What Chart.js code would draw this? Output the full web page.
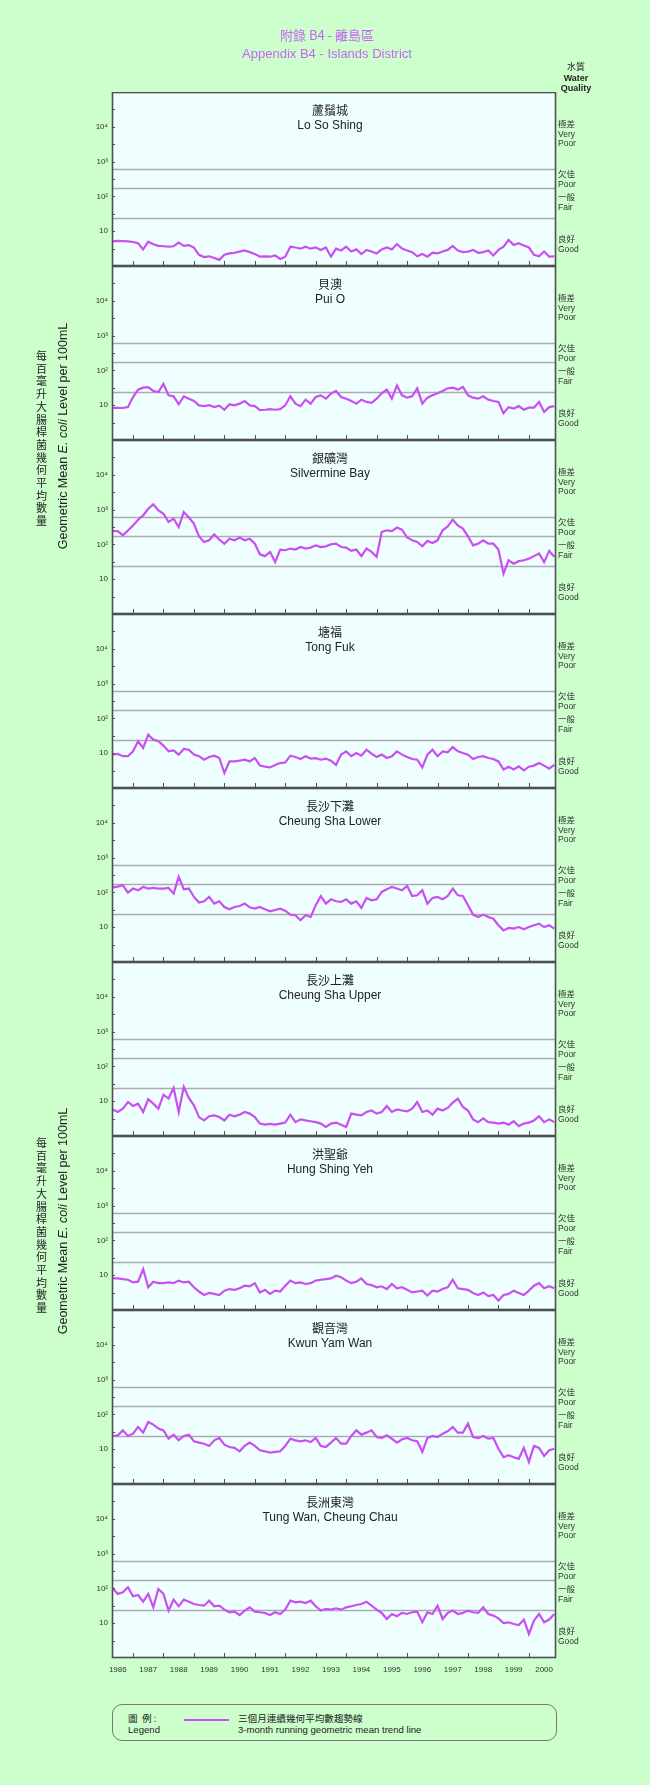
<!DOCTYPE html>
<html>
<head>
<meta charset="utf-8">
<title>Appendix B4 - Islands District</title>
<script src="https://cdn.jsdelivr.net/npm/chart.js@4.4.1/dist/chart.umd.min.js"></script>
<style>
  html, body { margin: 0; padding: 0; }
  body { width: 650px; height: 1785px; background: #ccffcc; position: relative; overflow: hidden;
         font-family: "Liberation Sans", Arial, "Noto Sans CJK TC", sans-serif; color: #222; }
  .t { position: absolute; white-space: nowrap; line-height: 1; }
  .c { transform: translate(-50%, -50%); text-align: center; }
  .l { transform: translateY(-50%); }
  .zh { font-family: "Noto Sans CJK TC", sans-serif; }
  canvas.panel { position: absolute; left: 0; }
  .title { color: #c466f2; font-size: 13px; }
  .site { font-size: 12px; color: #222; }
  .grade { position: absolute; font-size: 8.5px; line-height: 9.6px; color: #333; }
  .wq { position: absolute; font-size: 9px; line-height: 10.5px; font-weight: bold; text-align: center; color: #222; }
  .ytitle-en { font-size: 12.5px; transform: translate(-50%, -50%) rotate(-90deg); }
  .ytitle-zh { position: absolute; width: 12px; font-size: 11px; line-height: 12.7px; text-align: center;
               transform: translate(-50%, -50%); color: #222; }
  #legend { position: absolute; left: 112px; top: 1704px; width: 443px; height: 35px;
            border: 1px solid #777; border-radius: 10px; }
  .leg { font-size: 9.6px; color: #222; }
</style>
</head>
<body>
<div id="root"></div>
<script>
// sampling dates (every second month) shared by all sites
const MONTHS = [
  '1986-05','1986-07','1986-09','1986-11',
  '1987-01','1987-03','1987-05','1987-07','1987-09','1987-11',
  '1988-01','1988-03','1988-05','1988-07','1988-09','1988-11',
  '1989-01','1989-03','1989-05','1989-07','1989-09','1989-11',
  '1990-01','1990-03','1990-05','1990-07','1990-09','1990-11',
  '1991-01','1991-03','1991-05','1991-07','1991-09','1991-11',
  '1992-01','1992-03','1992-05','1992-07','1992-09','1992-11',
  '1993-01','1993-03','1993-05','1993-07','1993-09','1993-11',
  '1994-01','1994-03','1994-05','1994-07','1994-09','1994-11',
  '1995-01','1995-03','1995-05','1995-07','1995-09','1995-11',
  '1996-01','1996-03','1996-05','1996-07','1996-09','1996-11',
  '1997-01','1997-03','1997-05','1997-07','1997-09','1997-11',
  '1998-01','1998-03','1998-05','1998-07','1998-09','1998-11',
  '1999-01','1999-03','1999-05','1999-07','1999-09','1999-11',
  '2000-01','2000-03','2000-05','2000-07','2000-09','2000-11'
];

// 3-month running geometric mean E. coli per 100mL
const LO_SO_SHING = [5.1,5.3,5.2,5.1,4.9,4.5,3.0,5.0,4.2,3.8,3.7,3.6,3.7,4.7,3.8,4.0,3.4,2.1,1.8,1.9,1.7,1.5,2.1,2.3,2.4,2.6,2.8,2.5,2.2,1.85,1.9,1.85,2.0,1.6,1.85,3.6,3.4,3.15,3.6,3.15,3.4,2.9,3.4,1.85,3.15,2.8,3.6,2.6,3.0,2.2,2.9,2.6,2.3,3.0,3.4,3.0,4.3,3.15,2.8,2.5,1.9,2.2,1.85,2.4,2.3,2.6,2.9,3.8,2.8,2.5,2.6,2.9,2.4,2.5,2.8,2.0,2.9,3.6,5.6,4.0,4.5,3.9,3.4,2.1,1.9,2.6,1.85,1.9];
const PUI_O = [8.4,8.4,8.3,8.8,17.2,28,32,33,25.6,24,41,19.2,18,10.6,18,15.4,13.2,9.9,9.4,10.1,8.8,9.7,7.4,10.6,9.9,11.1,13.2,9.9,9.4,7.2,7.4,7.7,7.4,7.7,9.9,18,11.1,9.4,14.4,11.1,17.2,19.2,15.4,21.5,25.6,17.2,15.4,13.2,11.1,14.4,12.4,11.7,15.4,22,28,15.4,37,19.2,16.5,18,30.6,11.1,16.5,19.2,22,25.6,30.6,32,28,33.4,19.2,16.5,15.4,18,14.4,13.2,12.4,5.9,8.8,8.0,9.4,7.4,8.5,8.5,12.4,6.4,8.8,9.4];
const SILVERMINE_BAY = [242,242,183,252,350,513,680,1060,1410,950,762,440,548,314,850,590,395,170,117,131,195,137,105,146,131,158,131,146,105,52,46,61,31,71,68,76,71,84,76,81,94,84,88,101,105,84,81,65,71,46,76,61,44,226,254,242,305,266,158,131,117,88,126,110,131,254,330,513,350,285,170,94,105,131,105,105,71,14.5,35,28,33,35,39,46,55,31,65,44];
const TONG_FUK = [9.1,9.5,8.2,8.2,11.3,22,14.1,34,24.5,22,16.5,11.3,12.1,9.1,13.2,12.6,9.1,8.2,6.5,7.8,8.5,7.3,2.7,5.8,5.8,6.1,6.5,5.8,7.3,4.4,4.1,3.9,4.6,5.2,5.4,8.5,7.8,6.8,8.2,7.0,7.2,6.5,7.0,6.1,4.6,9.1,11.3,8.2,10.1,8.5,12.6,9.7,7.8,9.1,7.3,8.2,11.3,9.1,7.8,6.8,6.5,3.9,9.1,12.6,8.2,11.3,10.6,15.0,11.3,10.1,9.1,6.8,7.8,8.2,7.3,6.8,5.8,3.4,4.1,3.4,4.2,3.2,4.1,4.4,5.2,4.4,3.6,4.6];
const CHEUNG_SHA_LOWER = [140,146,160,98,129,115,143,129,134,129,129,134,92,280,123,129,74,51,55.5,74,47.6,55.5,38,32.6,38,40.7,47.6,37.3,34.2,38,32.6,28.6,31.3,34.2,29.9,23,22,15.8,22,19.7,42.6,78.7,47.6,63.2,55.5,53.2,63.2,47.6,55.5,35.7,69,59.3,63.2,103,123,143,129,115,154,78.7,82.4,115,47.6,69,74,63.2,78.7,129,82.4,78.7,42.6,23,19.7,23,19.7,17.5,11.4,8.1,9.5,9.1,10.1,8.7,10.1,11.4,12.7,10.1,11.4,9.1];
const CHEUNG_SHA_UPPER = [5.8,4.9,6.1,9.5,7.3,8.5,4.9,11.4,8.5,6.1,15.4,11.9,24,4.9,26,12.4,7.6,3.5,2.8,3.7,3.9,3.5,2.8,4.1,3.7,4.1,4.9,4.4,3.5,2.27,2.12,2.22,2.12,2.27,2.43,4.1,2.5,3.0,2.8,2.65,2.5,2.27,1.82,2.27,2.43,2.12,1.82,4.4,4.1,3.9,4.9,5.4,4.4,4.9,7.3,4.9,5.8,5.4,5.1,6.1,9.5,4.9,5.4,4.1,6.1,5.4,6.4,9.1,11.9,6.8,5.4,3.0,2.5,3.2,2.5,2.43,2.27,2.43,2.12,2.65,1.93,2.27,2.43,2.8,3.7,2.5,3.0,2.5];
const HUNG_SHING_YEH = [8.1,8.1,7.7,7.4,6.2,6.5,15,4.5,6.5,5.9,5.9,6.2,5.9,7.0,6.2,6.5,4.5,3.4,2.7,3.1,2.9,2.7,3.6,4.0,3.8,4.2,5.0,4.8,5.9,3.2,3.8,2.9,3.6,3.4,5.0,7.0,5.9,6.2,5.6,5.9,7.0,7.4,7.7,8.1,9.7,8.7,7.0,5.9,6.5,8.1,5.6,5.2,4.5,4.8,4.0,5.6,4.2,4.5,3.8,3.2,3.4,3.6,2.6,3.6,3.4,4.0,4.5,7.4,4.2,4.0,3.8,3.1,2.7,3.2,2.5,2.7,1.85,2.7,2.9,3.6,3.1,2.7,3.6,5.0,5.9,4.2,4.8,4.2];
const KWUN_YAM_WAN = [24,25,34.8,24,28,43.6,29.9,60.6,51,39,34.8,20,26.2,18,24,26.2,16.9,15.4,14.4,12.4,18,21,13.5,11.6,10.9,8.7,12.4,15.4,12.4,9.3,8.7,8.0,8.4,8.7,12.4,20,18,16.9,18,16.1,21,12.4,11.6,15.4,21,14.4,14.4,24,34.8,26.2,29.9,34.8,22.4,21,25,20,15.4,19.2,21,18,16.9,8.4,21,24,22.4,28,32.7,43.6,29.9,29.9,54.6,22.4,21,24,20,21,10.3,5.9,6.7,5.9,5.3,10.9,4.3,12.4,10.9,6.4,9.3,10.3];
const TUNG_WAN = [100.7,69.4,77.3,107.5,59.3,64.7,41.6,69.4,28.6,96,69.4,23,47.6,30.6,47.6,41.6,35.7,33.4,31.9,44.4,30.6,31.9,24.5,20.6,21.5,17.2,23,28.6,21.5,20.6,19.7,17.2,20.6,18.4,24.5,44.4,39.8,41.6,38.1,44.4,30.6,23,25.6,24.5,26.8,24.5,28.6,30.6,33.4,35.7,41.6,31.9,24.5,19.7,13.2,18.4,15.8,19.7,18.4,20.6,21.5,10.6,20.6,18.4,31.9,13.2,19.7,23,18.4,19.7,23,20.6,19.7,28.6,18.4,16.5,13.8,10.1,10.6,9.5,8.9,12.7,4.9,11.9,18.4,10.6,12.7,18.4];

const SITE_ZH = ['蘆鬚城','貝澳','銀礦灣','塘福','長沙下灘','長沙上灘','洪聖爺','觀音灣','長洲東灣'];
const SITE_EN = ['Lo So Shing','Pui O','Silvermine Bay','Tong Fuk','Cheung Sha Lower','Cheung Sha Upper','Hung Shing Yeh','Kwun Yam Wan','Tung Wan, Cheung Chau'];
const SITE_VALUES = [LO_SO_SHING, PUI_O, SILVERMINE_BAY, TONG_FUK, CHEUNG_SHA_LOWER, CHEUNG_SHA_UPPER, HUNG_SHING_YEH, KWUN_YAM_WAN, TUNG_WAN];

const YEARS = [1986,1987,1988,1989,1990,1991,1992,1993,1994,1995,1996,1997,1998,1999,2000];
const YEAR_TICKS = [1987,1988,1989,1990,1991,1992,1993,1994,1995,1996,1997,1998,1999,2000];
const Y_TICKS = [10, 100, 1000, 10000];
const Y_TICK_LABELS = ['10', '10²', '10³', '10⁴'];
const HALF_DECADES = [3.162, 10, 31.62, 100, 316.2, 1000, 3162, 10000, 31623];
const THRESHOLDS = [24, 180, 610];   // Good / Fair / Poor / Very Poor limits

const GRADE_ZH = ['極差','欠佳','一般','良好'];
const GRADE_EN = [['Very','Poor'],['Poor'],['Fair'],['Good']];

const X_MIN = 1986.31, X_MAX = 2000.89;
const PANEL_TOP = 92, PANEL_H = 174, CANVAS_W = 650, AREA_LEFT = 112, AREA_RIGHT = 556;
const LINE_COLOR = '#c94ff5', PLOT_BG = '#efffff', FRAME_COLOR = '#4f4f4f';
const FONT = '"Liberation Sans", Arial, sans-serif';

const toYear = m => { const [y, mo] = m.split('-').map(Number); return y + (mo - 1) / 12; };

// ── panel decoration: background, grade lines, inward ticks, frame ──
const panelDeco = {
  id: 'panelDeco',
  beforeDraw(chart) {
    const { ctx, chartArea: a, scales: { y } } = chart;
    ctx.save();
    ctx.fillStyle = PLOT_BG;
    ctx.fillRect(a.left, a.top, a.right - a.left, a.bottom - a.top);
    ctx.strokeStyle = '#ababab';
    ctx.lineWidth = 1.4;
    THRESHOLDS.forEach(t => {
      const py = Math.round(y.getPixelForValue(t)) + 0.5;
      ctx.beginPath(); ctx.moveTo(a.left, py); ctx.lineTo(a.right, py); ctx.stroke();
    });
    ctx.restore();
  },
  afterDatasetsDraw(chart) {
    const { ctx, chartArea: a, scales: { x, y } } = chart;
    ctx.save();
    ctx.strokeStyle = FRAME_COLOR;
    ctx.lineWidth = 1;
    ctx.beginPath();
    YEAR_TICKS.forEach(yr => {
      const px = Math.round(x.getPixelForValue(yr)) + 0.5;
      ctx.moveTo(px, a.bottom); ctx.lineTo(px, a.bottom - 5);
    });
    HALF_DECADES.forEach(v => {
      const py = Math.round(y.getPixelForValue(v)) + 0.5;
      ctx.moveTo(a.left, py); ctx.lineTo(a.left + 3, py);
    });
    ctx.stroke();
    ctx.lineWidth = 1.6;
    ctx.strokeRect(a.left + 0.5, a.top + 0.5, a.right - a.left - 1, a.bottom - a.top - 1);
    ctx.restore();
  }
};

const root = document.getElementById('root');
function addText(html, cls, x, y, extra) {
  const d = document.createElement('div');
  d.className = 't ' + cls;
  d.innerHTML = html;
  d.style.left = x + 'px';
  d.style.top = y + 'px';
  if (extra) d.style.cssText += extra;
  root.appendChild(d);
  return d;
}

SITE_VALUES.forEach((values, i) => {
  const last = i === SITE_VALUES.length - 1;
  const top = PANEL_TOP + i * PANEL_H;
  const cv = document.createElement('canvas');
  cv.className = 'panel';
  cv.width = CANVAS_W;
  cv.height = PANEL_H + (last ? 26 : 0);
  cv.style.top = top + 'px';
  root.appendChild(cv);

  new Chart(cv, {
    type: 'line',
    data: {
      datasets: [{
        data: MONTHS.map((m, k) => ({ x: toYear(m), y: values[k] })),
        borderColor: LINE_COLOR,
        borderWidth: 2.2,
        pointRadius: 0,
        tension: 0,
        fill: false
      }]
    },
    options: {
      responsive: false,
      animation: false,
      events: [],
      layout: { padding: { left: 0, right: CANVAS_W - AREA_RIGHT, top: 0, bottom: 0 } },
      plugins: { legend: { display: false }, tooltip: { enabled: false } },
      scales: {
        x: {
          type: 'linear', min: X_MIN, max: X_MAX,
          grid: { display: false, drawTicks: false },
          border: { display: false },
          ticks: {
            display: last, autoSkip: false, maxRotation: 0, padding: 7,
            color: '#333', font: { size: 8, family: FONT },
            callback: v => String(Math.floor(v))
          },
          afterBuildTicks: sc => { sc.ticks = YEARS.map(yr => ({ value: yr + 0.5 })); },
          afterFit: sc => { sc.height = last ? 26 : 0; sc.paddingLeft = 0; sc.paddingRight = 0; }
        },
        y: {
          type: 'logarithmic', min: 1, max: 100000,
          grid: { display: false, drawTicks: false },
          border: { display: false },
          ticks: {
            autoSkip: false, padding: 4, color: '#333', font: { size: 8, family: FONT },
            callback: (v, idx) => Y_TICK_LABELS[idx]
          },
          afterBuildTicks: sc => { sc.ticks = Y_TICKS.map(v => ({ value: v })); },
          afterFit: sc => { sc.width = AREA_LEFT; sc.paddingTop = 0; sc.paddingBottom = 0; }
        }
      }
    },
    plugins: [panelDeco]
  });

  // site name
  addText(SITE_ZH[i], 'c zh site', 330, top + 18);
  addText(SITE_EN[i], 'c site', 330, top + 33);

  // water quality grades on the right
  const gradeY = [27, 77, 100, 142];
  GRADE_ZH.forEach((g, j) => {
    const d = document.createElement('div');
    d.className = 'grade';
    d.style.left = '558px';
    d.style.top = (top + gradeY[j]) + 'px';
    d.innerHTML = '<span class="zh">' + g + '</span><br>' + GRADE_EN[j].join('<br>');
    root.appendChild(d);
  });
});

// titles
addText('附錄 B4 - 離島區', 'c zh title', 327, 34);
addText('Appendix B4 - Islands District', 'c title', 327, 53);

// water quality header
const wq = document.createElement('div');
wq.className = 'wq';
wq.style.left = '552px'; wq.style.top = '62px'; wq.style.width = '48px';
wq.innerHTML = '<span class="zh" style="font-weight:normal">水質</span><br>Water<br>Quality';
root.appendChild(wq);

// y axis titles
[[436, 438], [1221, 1225]].forEach(([ye, yz]) => {
  addText('Geometric Mean <i>E. coli</i> Level per 100mL', 'ytitle-en', 63, ye);
  const z = document.createElement('div');
  z.className = 'ytitle-zh zh';
  z.style.left = '41.5px'; z.style.top = yz + 'px';
  z.textContent = '每百毫升大腸桿菌幾何平均數量';
  root.appendChild(z);
});

// legend
const lg = document.createElement('div');
lg.id = 'legend';
root.appendChild(lg);
addText('圖&nbsp;&nbsp;例 :', 'l zh leg', 128, 1719);
addText('Legend', 'l leg', 128, 1730);
const sample = document.createElement('div');
sample.style.cssText = 'position:absolute;left:184px;top:1719px;width:45px;height:2px;background:' + LINE_COLOR;
root.appendChild(sample);
addText('三個月連續幾何平均數趨勢線', 'l zh leg', 238, 1719);
addText('3-month running geometric mean trend line', 'l leg', 238, 1730);
</script>
</body>
</html>
